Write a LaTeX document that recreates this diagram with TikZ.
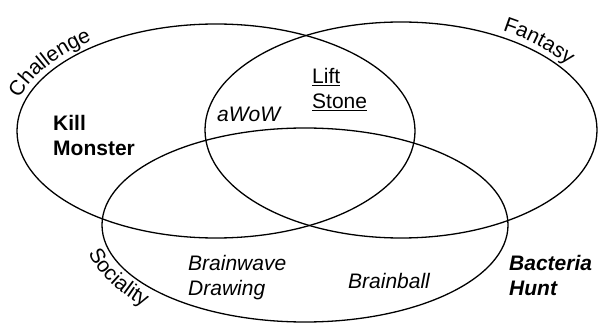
\documentclass[tikz,border=0pt]{standalone}
\usepackage{fontspec}
\setmainfont{Liberation Sans}
\usetikzlibrary{decorations.text}
\begin{document}
\begin{tikzpicture}[x=1pt,y=1pt,
  venn/.style={draw=black, line width=1.3pt},
  lbl/.style={anchor=base west, inner sep=0pt, align=left, font=\fontsize{21}{25}\selectfont}
]
\useasboundingbox (0,0) rectangle (599,324);
% sets
\draw[venn] (216,193) ellipse[x radius=199pt, y radius=107pt];
\draw[venn] (401,194) ellipse[x radius=196pt, y radius=108pt];
\draw[venn] (305,99) ellipse[x radius=203pt, y radius=97pt];
% set labels along the outlines
\path[decorate, decoration={text along path, text align=center,
  text={|\fontsize{21}{25}\selectfont|Challenge}}]
  ({216+205*cos(173)},{193+114*sin(173)}) arc[start angle=173, end angle=121, x radius=205pt, y radius=114pt];
\path[decorate, decoration={text along path, text align=center,
  text={|\fontsize{21}{25}\selectfont|Fantasy}}]
  ({401+202*cos(66)},{194+115*sin(66)}) arc[start angle=66, end angle=26, x radius=202pt, y radius=115pt];
\path[decorate, decoration={text along path, text align=center,
  text={|\fontsize{21}{25}\selectfont|Sociality}}]
  ({305+223*cos(178)},{99+118*sin(178)}) arc[start angle=178, end angle=234, x radius=223pt, y radius=118pt];
% items
\node[lbl, font=\fontsize{21}{25}\selectfont\bfseries] (kill) at (53,168) {Kill\\Monster};
\node[lbl, font=\fontsize{21}{25}\selectfont\itshape] (awow) at (217,202) {aWoW};
\node[lbl] (lift) at (312,215) {\underline{Lift}\\\underline{Stone}};
\node[lbl, font=\fontsize{21}{25}\selectfont\itshape] (bwd) at (188,29) {Brainwave\\Drawing};
\node[lbl, font=\fontsize{21}{25}\selectfont\itshape] (bball) at (348,36) {Brainball};
\node[lbl, font=\fontsize{21}{25}\selectfont\bfseries\itshape] (bact) at (509,29) {Bacteria\\Hunt};
\end{tikzpicture}
\end{document}
